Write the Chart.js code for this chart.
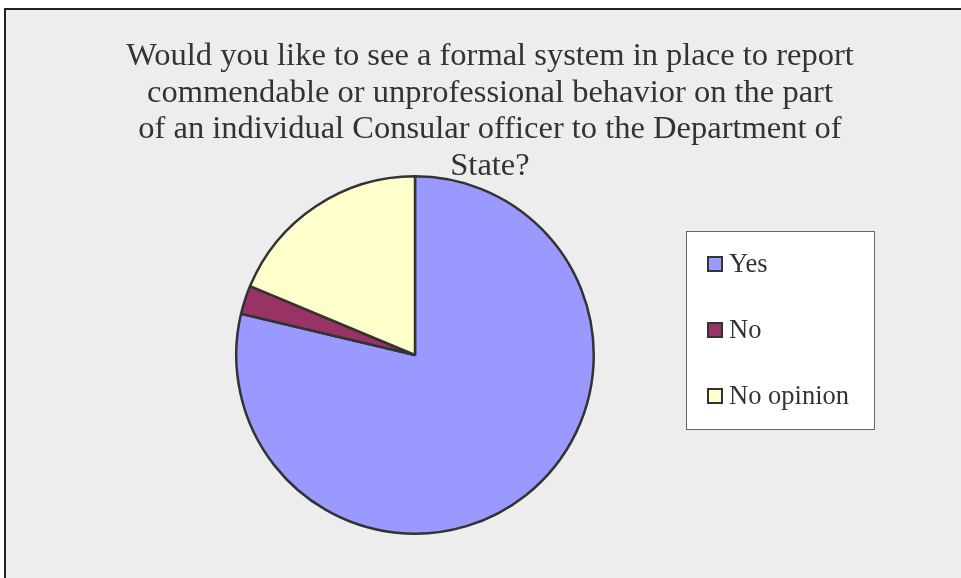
<!DOCTYPE html>
<html>
<head>
<meta charset="utf-8">
<script src="https://cdn.jsdelivr.net/npm/chart.js@4"></script>
<style>
  html, body { margin: 0; padding: 0; background: #fff; }
  #chart-container { position: relative; width: 961px; height: 578px; }
</style>
</head>
<body>
<div id="chart-container"><canvas id="pie"></canvas></div>
<script>
// chart data
const categories = ['Yes', 'No', 'No opinion'];
const values = [78.7, 2.6, 18.7];
const sliceColors = ['#9999ff', '#993366', '#ffffcc'];
const titleLines = [
  'Would you like to see a formal system in place to report',
  'commendable or unprofessional behavior on the part',
  'of an individual Consular officer to the Department of',
  'State?'
];

const textColor = '#333';
const serif = '"Liberation Serif", serif';

// grey panel with the frame round it
const framePlugin = {
  id: 'frame',
  beforeDraw(chart) {
    const ctx = chart.ctx;
    ctx.save();
    ctx.fillStyle = '#fff';
    ctx.fillRect(0, 0, chart.width, chart.height);
    ctx.fillStyle = '#ededed';
    ctx.fillRect(5, 8, chart.width, chart.height);
    ctx.strokeStyle = '#222';
    ctx.lineWidth = 2;
    ctx.strokeRect(5, 9, chart.width + 10, chart.height + 10);
    ctx.restore();
  }
};

// multi-line title, centred over the whole panel
const titlePlugin = {
  id: 'bigTitle',
  afterDraw(chart) {
    const ctx = chart.ctx;
    ctx.save();
    ctx.fillStyle = textColor;
    ctx.font = '32.5px ' + serif;
    ctx.textAlign = 'center';
    ctx.textBaseline = 'alphabetic';
    titleLines.forEach((line, i) => {
      ctx.fillText(line, 490, 65 + i * 36.5);
    });
    ctx.restore();
  }
};

// boxed legend on the right
const legendPlugin = {
  id: 'boxLegend',
  afterDraw(chart) {
    const ctx = chart.ctx;
    const colors = chart.data.datasets[0].backgroundColor;
    ctx.save();
    ctx.fillStyle = '#fff';
    ctx.fillRect(686.5, 231.5, 188, 198);
    ctx.strokeStyle = '#666';
    ctx.lineWidth = 1;
    ctx.strokeRect(686.5, 231.5, 188, 198);

    ctx.font = '26.5px ' + serif;
    ctx.textBaseline = 'alphabetic';
    ctx.textAlign = 'left';
    chart.data.labels.forEach((label, i) => {
      const cy = 264 + i * 66;
      ctx.fillStyle = colors[i];
      ctx.fillRect(708, cy - 7, 14, 14);
      ctx.strokeStyle = '#333';
      ctx.lineWidth = 2;
      ctx.strokeRect(708, cy - 7, 14, 14);
      ctx.fillStyle = textColor;
      ctx.fillText(label, 729, cy + 8);
    });
    ctx.restore();
  }
};

const ctx = document.getElementById('pie');

window.chart = new Chart(ctx, {
  type: 'pie',
  data: {
    labels: categories,
    datasets: [
      {
        data: values,
        backgroundColor: sliceColors,
        borderColor: '#333',
        borderWidth: 2.5,
      }
    ],
  },
  options: {
    responsive: true,
    maintainAspectRatio: false,
    animation: false,
    layout: {
      padding: { left: 235, right: 366, top: 175, bottom: 43 }
    },
    plugins: {
      legend: { display: false },
      title: { display: false },
      tooltip: { enabled: false },
    },
  },
  plugins: [framePlugin, titlePlugin, legendPlugin],
});
</script>
</body>
</html>
